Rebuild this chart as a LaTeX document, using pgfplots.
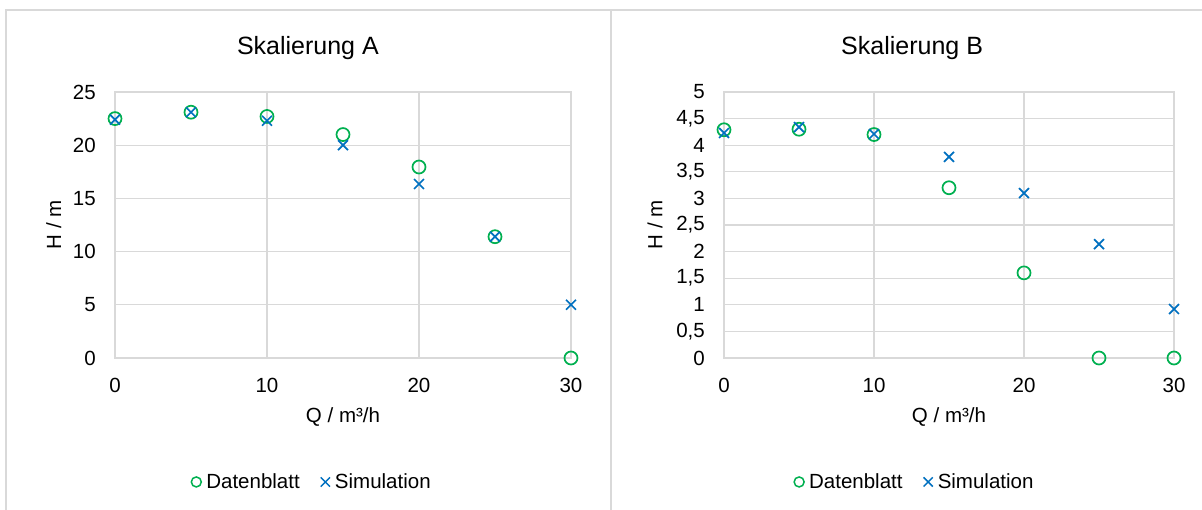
\documentclass[border=0pt]{standalone}
\usepackage{pgfplots}
\pgfplotsset{compat=1.18}
\usepackage{fontspec}
\setmainfont{Liberation Sans}
\definecolor{gridgray}{HTML}{D9D9D9}
\definecolor{dgreen}{HTML}{00B050}
\definecolor{dblue}{HTML}{0070C0}
\pgfplotsset{
  mystyle/.style={
    scale only axis,
    clip=false,
    xmin=0, xmax=30, xtick={0,10,20,30},
    ymin=0,
    grid=major,
    major grid style={draw=gridgray, line width=1.2pt},
    axis line style={draw=gridgray, line width=1.2pt},
    major tick length=0pt,
    /pgf/number format/assume math mode=true,
    tick label style={font=\fontsize{20.5}{24}\selectfont, inner sep=0pt},
    xticklabel style={yshift=-20pt},
    yticklabel style={xshift=-19pt},
    label style={font=\fontsize{20.5}{24}\selectfont},
    title style={font=\fontsize{25}{30}\selectfont, anchor=center},
    xlabel={Q / m³/h},
    ylabel={H / m},
    xlabel style={at={(axis description cs:0.5,-0.222)}, anchor=center},
    legend style={draw=none, fill=none, legend columns=2, anchor=center,
      font=\fontsize{20.5}{24}\selectfont,
      /tikz/every odd column/.append style={column sep=3pt},
      /tikz/every even column/.append style={column sep=19pt},
      nodes={inner sep=2pt}},
    legend image code/.code={\draw[#1, line width=1.5pt] plot coordinates {(0pt,0pt)};},
  },
  datstyle/.style={only marks, mark=o, mark size=6.5pt, line width=1.7pt, color=dgreen},
  simstyle/.style={only marks, mark=x, mark size=7pt, line width=1.7pt, color=dblue},
}
\begin{document}
\begin{tikzpicture}
\fill[white] (0,0) rectangle (1202pt,510pt);
\useasboundingbox (0,0) rectangle (1202pt,510pt);
\draw[gridgray, line width=1.3pt] (6pt,0pt) -- (6pt,500pt) -- (1202pt,500pt);
\draw[gridgray, line width=1.3pt] (611pt,0pt) -- (611pt,500pt);

\begin{axis}[mystyle,
  at={(115pt,152pt)}, anchor=south west,
  width=456pt, height=266pt,
  ymax=25, ytick={0,5,10,15,20,25},
  title={Skalierung A},
  title style={at={(axis description cs:0.423,1.143)}},
  ylabel style={at={(axis description cs:-0.134,0.5)}, anchor=center},
  legend style={at={(axis description cs:0.432,-0.466)}},
]
\addplot[datstyle] coordinates {(0,22.5) (5,23.1) (10,22.7) (15,21.0) (20,17.95) (25,11.4) (30,0)};
\addlegendentry{Datenblatt}
\addplot[simstyle] coordinates {(0,22.4) (5,23.1) (10,22.3) (15,20.0) (20,16.35) (25,11.4) (30,5.0)};
\addlegendentry{Simulation}
\legend{}
\end{axis}
\begin{axis}[mystyle,
  at={(115pt,152pt)}, anchor=south west,
  width=456pt, height=266pt,
  ymax=25, hide axis, xlabel={}, ylabel={},
  legend style={at={(axis description cs:0.432,-0.466)}},
]
\addplot[only marks, mark=o, mark size=5pt, color=dgreen] coordinates {(-100,-100)};
\addlegendentry{Datenblatt}
\addplot[only marks, mark=x, mark size=6.5pt, color=dblue] coordinates {(-100,-100)};
\addlegendentry{Simulation}
\end{axis}

\begin{axis}[mystyle,
  at={(724pt,152pt)}, anchor=south west,
  width=450pt, height=266pt,
  ymax=5, ytick={0,0.5,...,5},
  yticklabel style={/pgf/number format/fixed, /pgf/number format/use comma},
  title={Skalierung B},
  title style={at={(axis description cs:0.418,1.143)}},
  ylabel style={at={(axis description cs:-0.153,0.5)}, anchor=center},
  legend style={at={(axis description cs:0.424,-0.466)}},
]
\addplot[datstyle] coordinates {(0,4.29) (5,4.3) (10,4.2) (15,3.2) (20,1.6) (25,0) (30,0)};
\addplot[simstyle] coordinates {(0,4.23) (5,4.34) (10,4.21) (15,3.78) (20,3.1) (25,2.14) (30,0.92)};
\end{axis}
\begin{axis}[mystyle,
  at={(724pt,152pt)}, anchor=south west,
  width=450pt, height=266pt,
  ymax=5, hide axis, xlabel={}, ylabel={},
  legend style={at={(axis description cs:0.424,-0.466)}},
]
\addplot[only marks, mark=o, mark size=5pt, color=dgreen] coordinates {(-100,-100)};
\addlegendentry{Datenblatt}
\addplot[only marks, mark=x, mark size=6.5pt, color=dblue] coordinates {(-100,-100)};
\addlegendentry{Simulation}
\end{axis}
\end{tikzpicture}
\end{document}
